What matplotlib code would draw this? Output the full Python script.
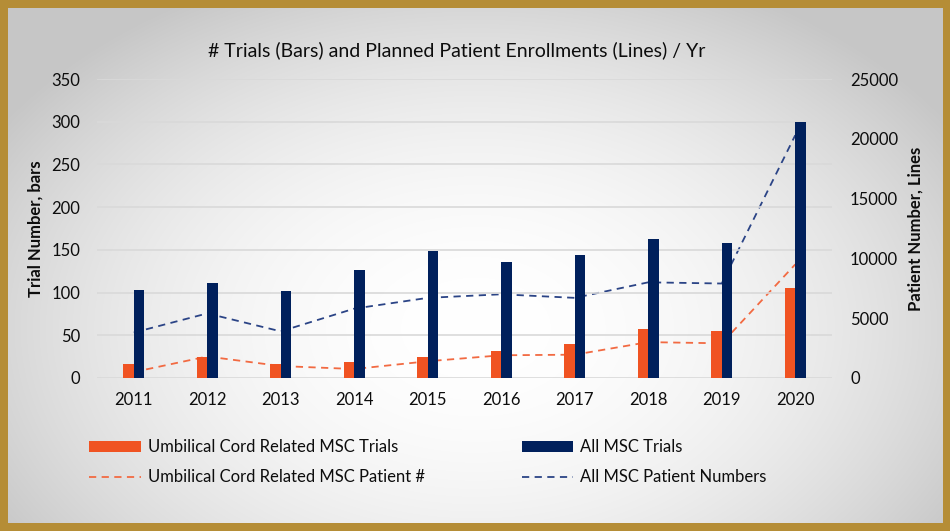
import numpy as np
import matplotlib
matplotlib.use("Agg")
import matplotlib.pyplot as plt
from matplotlib.patches import Patch
from matplotlib.lines import Line2D

plt.rcParams['font.family'] = ['Lato', 'DejaVu Sans']

# ---- data ----
years = ['2011', '2012', '2013', '2014', '2015', '2016', '2017', '2018', '2019', '2020']
uc_trials = [16, 25, 16, 19, 24, 32, 40, 57, 55, 105]
all_trials = [103, 111, 102, 127, 149, 136, 144, 163, 158, 300]
uc_patients = [500, 1800, 1000, 750, 1400, 1900, 1950, 3000, 2900, 9500]
all_patients = [3800, 5400, 3900, 5800, 6700, 7000, 6700, 8000, 7900, 20300]
left_ticks = [0, 50, 100, 150, 200, 250, 300, 350]
right_ticks = [0, 5000, 10000, 15000, 20000, 25000]

title = '# Trials (Bars) and Planned Patient Enrollments (Lines) / Yr'
labels = ['Umbilical Cord Related MSC Trials', 'Umbilical Cord Related MSC Patient #',
          'All MSC Trials', 'All MSC Patient Numbers']

ORANGE = '#F05322'
NAVY = '#00205C'
ORANGE_L = '#F26A42'
NAVY_L = '#2B4486'
GOLD = '#B58D36'
TXT = '#0d0d0d'

W, H = 950, 531
fig = plt.figure(figsize=(W / 100, H / 100), dpi=100)
fig.patch.set_facecolor(GOLD)

# background gradient panel inset by border
b = 8
bg = fig.add_axes([b / W, b / H, (W - 2 * b) / W, (H - 2 * b) / H], zorder=-10)
yy, xx = np.mgrid[0:H - 2 * b, 0:W - 2 * b]
cx, cy, rx, ry = 467, 320, 560, 380
d2 = ((xx - cx) / rx) ** 2 + ((yy - cy) / ry) ** 2
g = np.clip(1 - 0.22 * d2, 0.78, 1.0)
bg.imshow(np.dstack([g, g, g]), aspect='auto', interpolation='bilinear')
bg.set_axis_off()

# main axes
ax = fig.add_axes([97 / W, (H - 378) / H, 735 / W, 299 / H])
ax.set_facecolor('none')
x = np.arange(len(years))
bw = 0.143
ax.bar(x - bw / 2, uc_trials, bw, color=ORANGE, zorder=3)
ax.bar(x + bw / 2, all_trials, bw, color=NAVY, zorder=3)
ax.set_ylim(0, 350)
ax.set_yticks(left_ticks)
ax.set_xlim(-0.5, len(years) - 0.5)
ax.set_xticks(x)
ax.set_xticklabels(years)
ax.grid(axis='y', color='#d9d9d9', linewidth=1.2, zorder=0)
ax.set_axisbelow(True)
for s in ax.spines.values():
    s.set_visible(False)
ax.tick_params(length=0, labelsize=12, colors=TXT)
ax.tick_params(axis='y', pad=12)
ax.tick_params(axis='x', pad=10)
ax.set_ylabel('Trial Number, bars', fontsize=12, fontweight='bold', labelpad=6, color=TXT)

ax2 = ax.twinx()
ax2.set_ylim(0, 25000)
ax2.set_yticks(right_ticks)
ax2.plot(x, uc_patients, color=ORANGE_L, linewidth=1.3, dashes=(4, 3), zorder=2)
ax2.plot(x, all_patients, color=NAVY_L, linewidth=1.3, dashes=(4, 3), zorder=2)
for s in ax2.spines.values():
    s.set_visible(False)
ax2.tick_params(length=0, labelsize=12, colors=TXT, pad=13)
ax2.set_ylabel('Patient Number, Lines', fontsize=12, fontweight='bold', labelpad=7, color=TXT)
ax.set_zorder(ax2.get_zorder() + 1)

fig.text(457 / W, 1 - 50 / H, title, ha='center', va='center', fontsize=14, color=TXT)

handles = [Patch(facecolor=ORANGE), Line2D([], [], color=ORANGE_L, lw=1.3, dashes=(4, 3)),
           Patch(facecolor=NAVY), Line2D([], [], color=NAVY_L, lw=1.3, dashes=(4, 3))]
fig.legend(handles, labels, ncol=2, loc='upper left', bbox_to_anchor=(81 / W, 1 - 431 / H),
           frameon=False, fontsize=12, handlelength=3.1, handletextpad=0.42,
           columnspacing=5.8, labelspacing=0.85, borderpad=0, labelcolor=TXT)

fig.savefig('out.png', dpi=100, facecolor=fig.get_facecolor())
